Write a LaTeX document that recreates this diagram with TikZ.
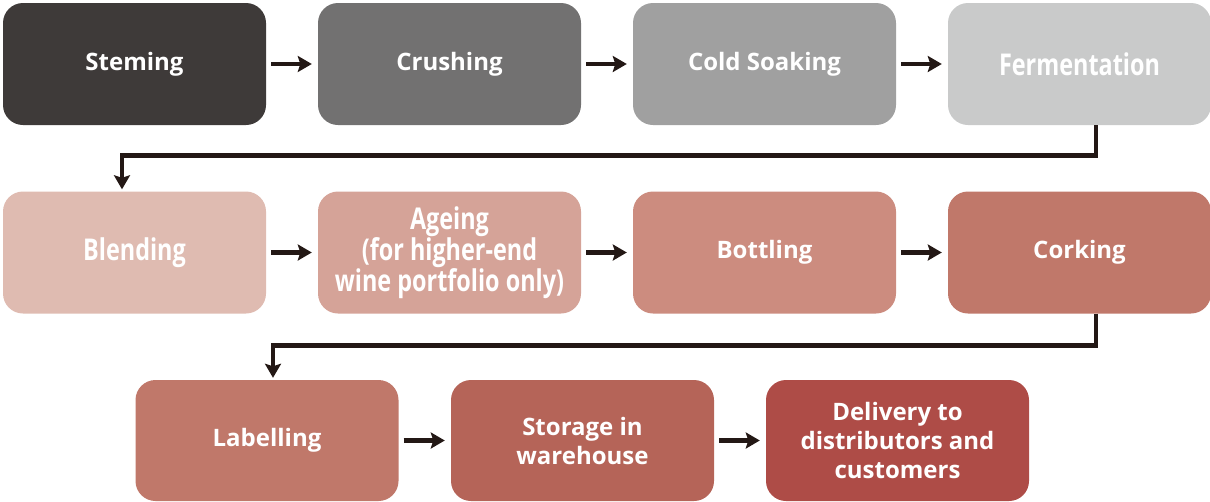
\documentclass[tikz,border=0pt]{standalone}
\usepackage{fontspec}
\setmainfont{Open Sans}
\newfontfamily\condfont{Open Sans}[FakeStretch=0.78]
\usetikzlibrary{arrows.meta}
\definecolor{cA}{HTML}{3E3A39}
\definecolor{cB}{HTML}{727171}
\definecolor{cC}{HTML}{A0A0A0}
\definecolor{cD}{HTML}{C9CACA}
\definecolor{cE}{HTML}{DFBBB1}
\definecolor{cF}{HTML}{D5A398}
\definecolor{cG}{HTML}{CC8C7F}
\definecolor{cH}{HTML}{C0786A}
\definecolor{cI}{HTML}{C0786A}
\definecolor{cJ}{HTML}{B56458}
\definecolor{cK}{HTML}{AE4C47}
\definecolor{arr}{HTML}{231815}
\begin{document}
\begin{tikzpicture}[x=1pt,y=-1pt,
  stepbox/.style={rounded corners=20pt, minimum width=263pt, minimum height=122pt,
    inner sep=0pt, text=white, align=center,
    font=\fontsize{24}{29}\selectfont\bfseries},
  condbox/.style={stepbox, font=\fontsize{30}{29}\selectfont\condfont\bfseries},
  flow/.style={draw=arr, line width=4.6pt, -{Stealth[length=14pt,width=16pt,inset=2.5pt]}}]
\useasboundingbox (0,0) rectangle (1210,501);
\node[stepbox, fill=cA] (stem) at (134.5,64) {Steming};
\node[stepbox, fill=cB] (crush) at (449.5,64) {Crushing};
\node[stepbox, fill=cC] (soak) at (764.5,64) {Cold Soaking};
\node[condbox, fill=cD] (ferm) at (1079.5,64) {Fermentation};
\node[condbox, fill=cE] (blend) at (134.5,252.5) {Blending};
\node[condbox, fill=cF] (age) at (449.5,252.5) {Ageing\\(for higher-end\\wine portfolio only)};
\node[stepbox, fill=cG] (bottle) at (764.5,252.5) {Bottling};
\node[stepbox, fill=cH] (cork) at (1079.5,252.5) {Corking};
\node[stepbox, fill=cI, minimum height=121pt] (label) at (267,440.5) {Labelling};
\node[stepbox, fill=cJ, minimum height=121pt] (store) at (582.5,440.5) {Storage in\\warehouse};
\node[stepbox, fill=cK, minimum height=121pt] (deliv) at (897.5,440.5) {Delivery to\\distributors and\\customers};
\draw[flow] ([xshift=5pt]stem.east) -- ([xshift=-6pt]crush.west);
\draw[flow] ([xshift=5pt]crush.east) -- ([xshift=-6pt]soak.west);
\draw[flow] ([xshift=5pt]soak.east) -- ([xshift=-6pt]ferm.west);
\draw[flow] ([xshift=5pt]blend.east) -- ([xshift=-6pt]age.west);
\draw[flow] ([xshift=5pt]age.east) -- ([xshift=-6pt]bottle.west);
\draw[flow] ([xshift=5pt]bottle.east) -- ([xshift=-6pt]cork.west);
\draw[flow] ([xshift=5pt]label.east) -- ([xshift=-6pt]store.west);
\draw[flow] ([xshift=5pt]store.east) -- ([xshift=-6pt]deliv.west);
\draw[flow] ([xshift=16.5pt]ferm.south) -- ++(0,30) -| ([xshift=-12.5pt,yshift=2pt]blend.north);
\draw[flow] ([xshift=16.5pt]cork.south) -- ++(0,32) -| ([xshift=6pt,yshift=2pt]label.north);
\end{tikzpicture}
\end{document}
